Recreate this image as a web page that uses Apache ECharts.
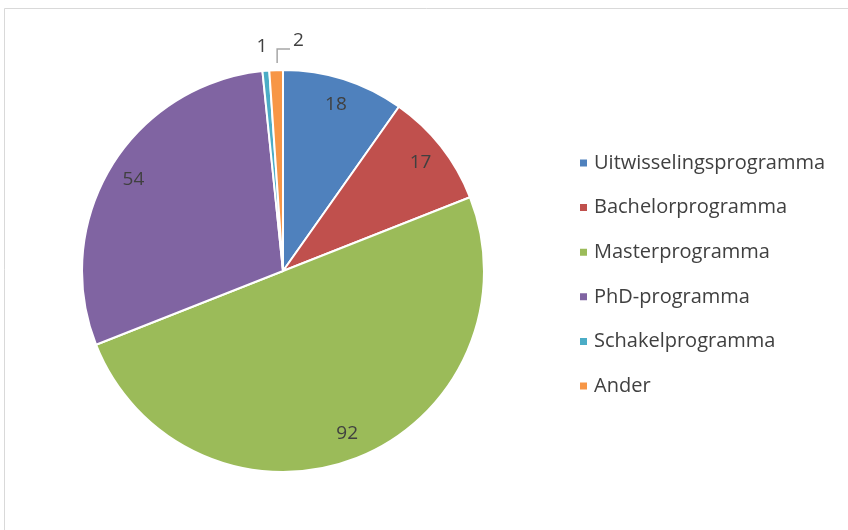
<!DOCTYPE html>
<html>
<head>
<meta charset="utf-8">
<script src="https://cdn.jsdelivr.net/npm/echarts@6/dist/echarts.min.js"></script>
<style>
  html, body { margin: 0; padding: 0; background: #fff; }
  #chart { width: 848px; height: 530px; }
</style>
</head>
<body>
<div id="chart"></div>
<script>
const categories = ['Uitwisselingsprogramma', 'Bachelorprogramma', 'Masterprogramma', 'PhD-programma', 'Schakelprogramma', 'Ander']
const values = [18, 17, 92, 54, 1, 2]
const colors = ['#4F81BD', '#C0504D', '#9BBB59', '#8064A2', '#4BACC6', '#F79646']

const chartDom = echarts.init(document.getElementById('chart'))

const pieData = categories.map((name, i) => ({
  name: name,
  value: values[i],
  itemStyle: { color: colors[i] },
}))

// labels sit on a transparent ring so they land at ~86% of the radius
const labelData = categories.map((name, i) => {
  const small = values[i] < 5
  return {
    name: name,
    value: values[i],
    label: small
      ? { position: 'outside', distance: 4 }
      : { position: 'inside' },
    labelLine: { show: i === 5, length: 18, length2: 10, lineStyle: { color: '#A6A6A6', width: 1.5 } },
  }
})

const option = {
  animation: false,
  textStyle: { fontFamily: 'Open Sans' },
  graphic: [{
    type: 'rect',
    shape: { x: 4.5, y: 8.5, width: 900, height: 600 },
    style: { fill: 'none', stroke: '#D9D9D9', lineWidth: 1 },
    silent: true,
  }],
  legend: {
    orient: 'vertical',
    left: 573,
    top: 148,
    itemGap: 24.6,
    itemWidth: 9,
    itemHeight: 9,
    icon: 'rect',
    data: categories,
    textStyle: { fontSize: 20, lineHeight: 20, color: '#404040', fontFamily: 'Open Sans', padding: [0, 0, 0, 1] },
  },
  series: [
    {
      type: 'pie',
      center: [283, 271],
      radius: 201,
      startAngle: 90,
      clockwise: true,
      data: pieData,
      label: { show: false },
      labelLine: { show: false },
      itemStyle: { borderColor: '#fff', borderWidth: 2 },
      silent: true,
    },
    {
      type: 'pie',
      center: [283, 271],
      radius: [143, 201],
      startAngle: 90,
      clockwise: true,
      data: labelData,
      itemStyle: { color: 'rgba(0,0,0,0)' },
      label: { show: true, formatter: '{c}', fontSize: 19, color: '#404040', fontFamily: 'Open Sans' },
      labelLayout: function (params) {
        if (params.dataIndex === 4) {
          return { x: 262, y: 47, align: 'center', verticalAlign: 'middle' }
        }
        if (params.dataIndex === 5) {
          const start = params.labelLinePoints ? params.labelLinePoints[0] : [277, 70]
          return {
            x: 293, y: 41, align: 'left', verticalAlign: 'middle',
            labelLinePoints: [[start[0] + 1, start[1] - 7], [start[0] + 1, 49], [290, 49]],
          }
        }
        return {}
      },
      silent: true,
      legendHoverLink: false,
    },
  ],
}

chartDom.setOption(option)
window.addEventListener('resize', () => chartDom.resize())
</script>
</body>
</html>
